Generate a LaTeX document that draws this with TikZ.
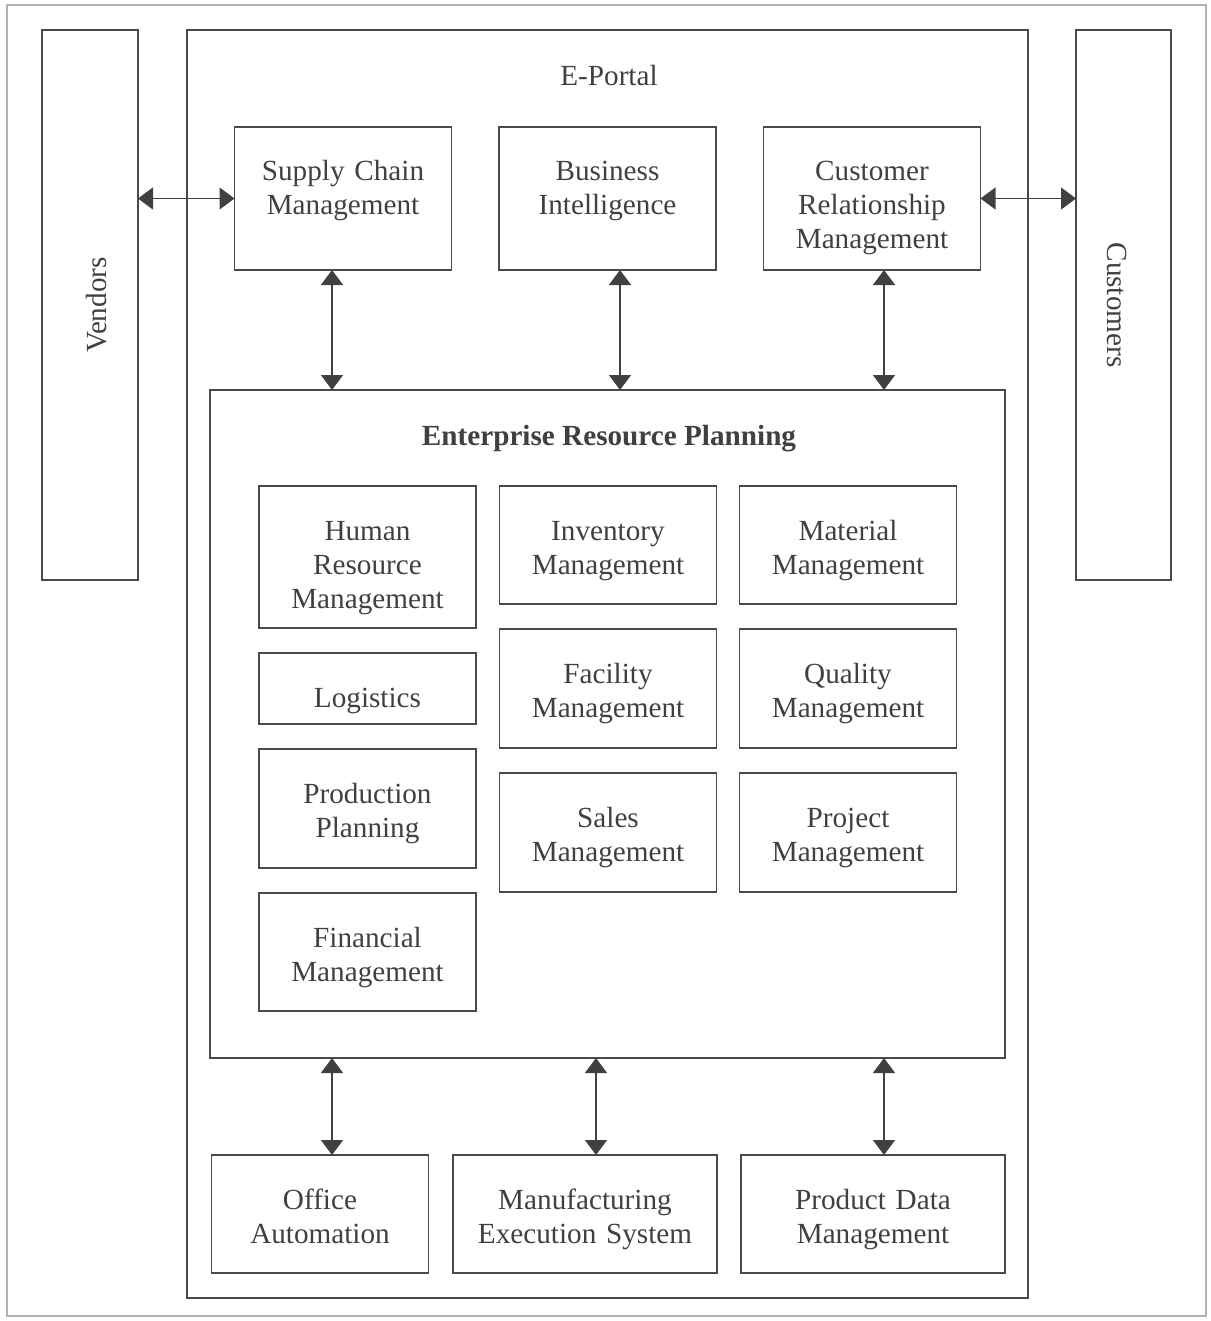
\documentclass[tikz,border=0pt]{standalone}
\usepackage{fontspec}
\setmainfont{Liberation Serif}
\usepackage{tikz}
\usetikzlibrary{arrows.meta, calc, positioning}
\definecolor{inkgray}{HTML}{404040}
\definecolor{linegray}{HTML}{4A4A4A}
\tikzstyle{module} = [rectangle, line width=0.6pt, draw=linegray, text=inkgray, minimum width=108.5pt, text width=104pt, text height=27pt, inner sep=0pt, outer sep=0pt, align=center, font=\fontsize{14.6}{17}\selectfont]
\tikzstyle{frame} = [rectangle, line width=0.6pt, draw=linegray, inner sep=0pt, outer sep=0pt]
\tikzstyle{title} = [text=inkgray, font=\fontsize{14.6}{17}\selectfont]
\tikzstyle{arrow} = [line width=0.7pt, draw=inkgray, {Triangle[length=7.5pt, width=11pt]}-{Triangle[length=7.5pt, width=11pt]}]

\begin{document}
\begin{tikzpicture}[x=0.5pt, y=-0.5pt, node distance = 12.5pt]
		\useasboundingbox (0,0) rectangle (1210,1321);
		\draw [gray!60, line width=0.6pt] (7,5) rectangle (1206,1316);

		\node (Vendors) [frame, minimum width=48pt, minimum height=275pt] at (90,305) {};
		\node (VendorsText) [title, rotate=90] at (97,305) {Vendors};
		\node (Customers) [frame, minimum width=47.5pt, minimum height=275pt] at (1123.5,305) {};
		\node (CustomersText) [title, rotate=-90] at (1117,305) {Customers};

		\node (Portal) [frame, minimum width=420.5pt, minimum height=634pt] at (607.5,664) {};
		\node (PortalText) [title] at (609,76) {E-Portal};

		\node (SCM) [module, text depth=44.5pt] at (343,198.5) {Supply Chain\\Management};
		\node (BI) [module, text depth=44.5pt] at (607.5,198.5) {Business\\Intelligence};
		\node (CRM) [module, text depth=44.5pt] at (872,198.5) {Customer\\Relationship\\Management};

		\node (ERP) [frame, minimum width=397.5pt, minimum height=334pt] at (607.5,724) {};
		\node (ERPText) [title, font=\fontsize{14.6}{17}\selectfont\bfseries] at (609,439) {Enterprise Resource Planning};

		\node (HRM) [module, text depth=44pt] at (367.5,557) {Human\\Resource\\Management};
		\node (Logistics) [module, text depth=8.5pt, below = of HRM] {Logistics};
		\node (Production) [module, text depth=32.5pt, below = of Logistics] {Production\\Planning};
		\node (Financial) [module, text depth=32pt, below = of Production] {Financial\\Management};

		\node (Inventory) [module, text depth=32pt] at (608,545) {Inventory\\Management};
		\node (Facility) [module, text depth=32.5pt, below = of Inventory] {Facility\\Management};
		\node (Sales) [module, text depth=32.5pt, below = of Facility] {Sales\\Management};

		\node (Material) [module, text depth=32pt] at (848,545) {Material\\Management};
		\node (Quality) [module, text depth=32.5pt, below = of Material] {Quality\\Management};
		\node (Project) [module, text depth=32.5pt, below = of Quality] {Project\\Management};

		\node (Office) [module, text depth=32pt] at (320,1214) {Office\\Automation};
		\node (MES) [module, text depth=32pt, minimum width=132pt, text width=128pt] at (585,1214) {Manufacturing\\Execution System};
		\node (PDM) [module, text depth=32pt, minimum width=132pt, text width=128pt] at (873,1214) {Product Data\\Management};

		\draw [arrow] (Vendors.east |- SCM.west) -- (SCM.west);
		\draw [arrow] (CRM.east) -- (CRM.east -| Customers.west);

		\draw [arrow] ([xshift=-5.5pt]SCM.south) -- ([xshift=-5.5pt]SCM.south |- ERP.north);
		\draw [arrow] ([xshift=6.25pt]BI.south) -- ([xshift=6.25pt]BI.south |- ERP.north);
		\draw [arrow] ([xshift=6pt]CRM.south) -- ([xshift=6pt]CRM.south |- ERP.north);

		\draw [arrow] ([xshift=6pt]Office.north |- ERP.south) -- ([xshift=6pt]Office.north);
		\draw [arrow] ([xshift=5.5pt]MES.north |- ERP.south) -- ([xshift=5.5pt]MES.north);
		\draw [arrow] ([xshift=5.5pt]PDM.north |- ERP.south) -- ([xshift=5.5pt]PDM.north);
\end{tikzpicture}
\end{document}
